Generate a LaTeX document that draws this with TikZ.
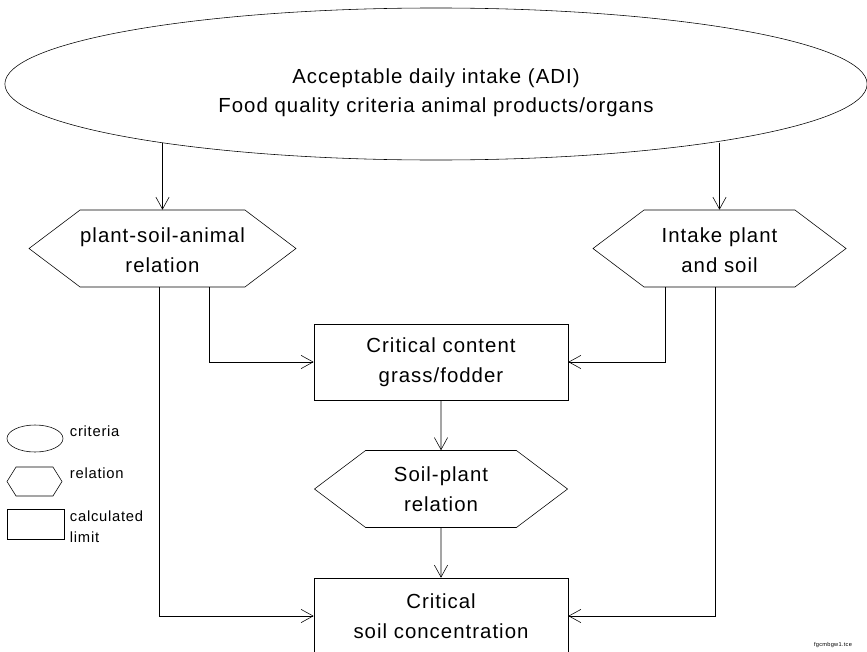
\documentclass[tikz,border=0pt]{standalone}
\usepackage{fontspec}
\setmainfont{Liberation Sans}[LetterSpace=5.0]
\usepackage{tikz}
\usetikzlibrary{positioning, arrows.meta, shapes.geometric, shapes.symbols}
\tikzset{->, % every connector gets a tip
>={Straight Barb[length=3mm, width=3.3mm]}, % open v-shaped tips
line width=0.8pt,
criteria/.style={ellipse, draw, align=center, font=\fontsize{14.5}{21}\selectfont}, % oval for the criteria
relation/.style={signal, signal to=east and west, signal pointer angle=74, draw, align=center,
  minimum width=6.325cm, minimum height=1.925cm, inner sep=0pt, font=\fontsize{14.5}{21.5}\selectfont}, % hexagon for a relation
limit/.style={rectangle, draw, align=center, minimum width=6.35cm, minimum height=1.9cm,
  font=\fontsize{14.5}{21.5}\selectfont}, % box for a calculated limit
legend/.style={anchor=west, align=left, font=\fontsize{10.5}{15}\selectfont}, % legend texts
}

\begin{document}
\begin{tikzpicture}[x=0.025cm, y=-0.025cm]
\clip[use as bounding box] (0,0) rectangle (867,651);

\node[criteria, minimum width=21.55cm, minimum height=3.8cm] (adi) at (436,84)
  {\rule{0pt}{23pt}Acceptable daily intake (ADI)\\Food quality criteria animal products/organs};

\node[relation] (psa) at (162.5,248.5) {\rule{0pt}{12.5pt}plant-soil-animal\\relation};
\node[relation] (ips) at (719.5,248.5) {\rule{0pt}{12.5pt}Intake plant\\and soil};
\node[limit] (fodder) at (441,362) {Critical content\\grass/fodder};
\node[relation] (sp) at (441,489) {Soil-plant\\relation};
\node[limit] (soil) at (441,616) {Critical\\soil concentration};

% legend
\node[ellipse, draw, minimum width=1.4cm, minimum height=0.675cm] (legcrit) at (35,438.5) {};
\node[signal, signal to=east and west, signal pointer angle=116, draw, inner sep=0pt,
  minimum width=1.375cm, minimum height=0.725cm] (legrel) at (34.5,481.5) {};
\node[rectangle, draw, minimum width=1.425cm, minimum height=0.75cm] (leglim) at (35.5,524) {};
\node[legend] (txtcrit) at (65,431) {criteria};
\node[legend] (txtrel) at (65,473) {relation};
\node[legend] (txtlim) at (65,526.5) {calculated\\limit};

\node[font=\fontsize{4}{5}\selectfont] (fname) at (833,645) {fgcmbgw1.tce};

\draw (adi.192 -| psa.north) -- (psa.north);
\draw (adi.348 -| ips.north) -- (ips.north);
\draw ([xshift=11.75mm]psa.south) |- (fodder.west);
\draw ([xshift=-1.35cm]ips.south) |- (fodder.east);
\draw ([xshift=-0.9mm]psa.south) |- (soil.west);
\draw ([xshift=-1.1mm]ips.south) |- (soil.east);
\draw (fodder) -- (sp);
\draw (sp) -- (soil);

\end{tikzpicture}
\end{document}
